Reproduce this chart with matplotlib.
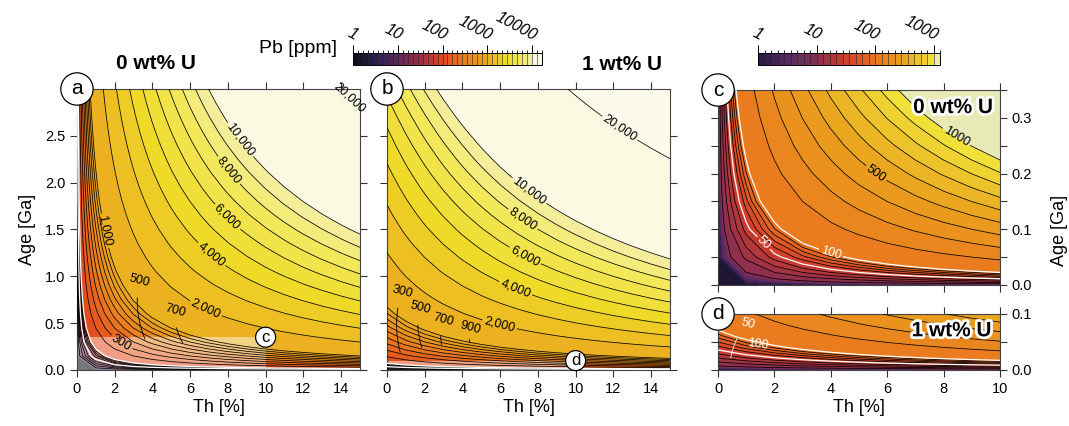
import numpy as np
import matplotlib.pyplot as plt
import matplotlib.patheffects as pe
from matplotlib.colors import ListedColormap, BoundaryNorm
from matplotlib.cm import ScalarMappable
from matplotlib.patches import Rectangle
from matplotlib.ticker import MultipleLocator

plt.rcParams['font.family'] = ['Liberation Sans', 'DejaVu Sans']
plt.rcParams['font.size'] = 10.5

# === decay constants [1/yr], mass ratios, U isotope abundances ===
LAM_232 = 4.9475e-11
LAM_238 = 1.55125e-10
LAM_235 = 9.8485e-10
MASS_208_232 = 207.977 / 232.038
MASS_206_238 = 205.974 / 238.051
MASS_207_235 = 206.976 / 235.044
U238_ABUND = 0.992742
U235_ABUND = 0.007204

# === model grids: Th [%], age [Ga] ===
th_ab = np.arange(0, 15.01, 1.0)
age_ab = np.arange(0, 3.001, 0.15)
th_cd = np.arange(0, 10.01, 1.0)
age_c = np.arange(0, 0.3501, 0.05)
age_d = np.arange(0, 0.1001, 0.02)
u_panels = {'a': 0.0, 'b': 1.0, 'c': 0.0, 'd': 1.0}   # wt% U

# === contour levels [ppm] ===
levels_ab = [1, 2, 3, 4, 5, 6, 7, 8, 9,
             10, 20, 30, 40, 50, 60, 70, 80, 90,
             100, 200, 300, 400, 500, 600, 700, 800, 900,
             1000, 2000, 3000, 4000, 5000, 6000, 7000, 8000, 9000,
             10000, 20000, 30000]
levels_cd = [1, 2, 3, 4, 5, 6, 7, 8, 9,
             10, 20, 30, 40, 50, 60, 70, 80, 90,
             100, 200, 300, 400, 500, 600, 700, 800, 900,
             1000, 2000]
white_levels = [50, 100]
min_line_level = 10

# labelled contours: level -> label position (Th, age)
labels_a = {20000: (14.3, 2.88), 10000: (8.6, 2.45), 8000: (8.1, 2.14), 6000: (8.0, 1.64),
            4000: (7.2, 1.25), 2000: (6.9, 0.68), 1000: (1.8, 1.5), 300: (2.3, 0.27)}
labels_b = {20000: (12.5, 2.63), 10000: (7.6, 1.93), 8000: (7.2, 1.61), 6000: (7.4, 1.25),
            4000: (6.9, 0.91), 2000: (6.0, 0.51)}
labels_c = {1000: (8.45, 0.266), 500: (5.6, 0.20)}
labels_c_white = {100: (4.0, 0.057), 50: (1.55, 0.072)}

# colour anchors (position in bin index, RGB 0-255)
anchor_ab_pos = [0, 4.5, 9, 13.5, 18, 22.5, 27, 30.5, 33.5, 35.5, 36.5, 38]
anchor_ab_rgb = [(14, 12, 22), (42, 30, 78), (92, 40, 92), (158, 45, 68),
                 (226, 72, 32), (234, 128, 30), (234, 170, 32), (240, 218, 40),
                 (242, 232, 90), (244, 238, 155), (251, 249, 226), (253, 252, 240)]
anchor_cd_pos = [0, 4.5, 9, 13.5, 18, 22.5, 26.5, 27.5]
anchor_cd_rgb = [(40, 26, 64), (86, 42, 100), (136, 46, 82), (212, 62, 42),
                 (234, 118, 30), (234, 166, 30), (240, 224, 56), (232, 234, 182)]


def radiogenic_pb(th_pct, age_ga, u_pct):
    t = age_ga * 1e9
    th = th_pct * 1e4
    u = u_pct * 1e4
    return (th * MASS_208_232 * (np.exp(LAM_232 * t) - 1)
            + u * U238_ABUND * MASS_206_238 * (np.exp(LAM_238 * t) - 1)
            + u * U235_ABUND * MASS_207_235 * (np.exp(LAM_235 * t) - 1))


def make_cmap(levels, pos, rgb, under):
    nbins = len(levels) - 1
    centers = np.arange(nbins) + 0.5
    rgb = np.array(rgb) / 255.0
    cols = np.column_stack([np.interp(centers, pos, rgb[:, k]) for k in range(3)])
    cmap = ListedColormap(cols)
    cmap.set_under(np.array(under) / 255.0)
    cmap.set_over(rgb[-1])
    return cmap, BoundaryNorm(levels, nbins)


cmap_ab, norm_ab = make_cmap(levels_ab, anchor_ab_pos, anchor_ab_rgb, (8, 8, 12))
cmap_cd, norm_cd = make_cmap(levels_cd, anchor_cd_pos, anchor_cd_rgb, (30, 22, 50))

fmt = lambda v: f'{v:,.0f}'
fmt_plain = lambda v: f'{v:.0f}'
outline = [pe.withStroke(linewidth=4, foreground='white')]

fig = plt.figure(figsize=(10.69, 4.26), dpi=100)
ax_a = fig.add_axes([0.0720, 0.1315, 0.2647, 0.6596])
ax_b = fig.add_axes([0.3620, 0.1315, 0.2647, 0.6596])
ax_c = fig.add_axes([0.6717, 0.3310, 0.2638, 0.4577])
ax_d = fig.add_axes([0.6717, 0.1315, 0.2638, 0.1315])


def draw_field(ax, th, age, u, levels, cmap, norm, black_labels=None, white_labels=None,
               fmt=fmt):
    black_labels = black_labels or {}
    white_labels = white_labels or {}
    T, A = np.meshgrid(th, age)
    Z = radiogenic_pb(T, A, u)
    ax.contourf(T, A, Z, levels=levels, cmap=cmap, norm=norm, extend='both', zorder=1)
    plain_k = [lv for lv in levels if lv >= min_line_level and lv not in white_levels
               and lv not in black_labels]
    plain_w = [lv for lv in white_levels if lv not in white_labels]
    ax.contour(T, A, Z, levels=plain_k, colors='k', linewidths=0.55, zorder=3)
    if plain_w:
        ax.contour(T, A, Z, levels=plain_w, colors='white', linewidths=0.9, zorder=3)
    for lv, pos in list(black_labels.items()) + list(white_labels.items()):
        col, lw = ('white', 0.9) if lv in white_labels else ('k', 0.55)
        cs = ax.contour(T, A, Z, levels=[lv], colors=col, linewidths=lw, zorder=3)
        for t in ax.clabel(cs, manual=[pos], fmt=fmt, fontsize=9, inline=True,
                           inline_spacing=2):
            t.set_clip_on(False)


def style_axes(ax):
    ax.tick_params(direction='out', top=True, right=True, length=5, width=0.8,
                   labelsize=10.5, color='#333333')
    ax.tick_params(which='minor', direction='out', top=True, right=True, length=5,
                   width=0.8, color='#333333')
    for s in ax.spines.values():
        s.set_linewidth(0.8)
        s.set_color('#444444')


def circle_label(ax, x, y, txt, size, pad, transform=None):
    ax.text(x, y, txt, transform=transform or ax.transAxes, ha='center', va='center',
            fontsize=size, zorder=20, clip_on=False,
            bbox=dict(boxstyle=f'circle,pad={pad}', fc='white', ec='black', lw=0.9))


def leader(ax, txt, tip, pos, color='k'):
    ax.annotate(txt, xy=tip, xytext=pos, fontsize=9, rotation=-15, ha='center',
                va='center', zorder=6, color=color,
                arrowprops=dict(arrowstyle='-', lw=0.6, color=color, shrinkA=4, shrinkB=0,
                                connectionstyle='arc3,rad=0.15'))


# --- panel a ---
draw_field(ax_a, th_ab, age_ab, u_panels['a'], levels_ab, cmap_ab, norm_ab, labels_a)
ax_a.add_patch(Rectangle((0, 0), 10, 0.35, fc='white', ec='none', alpha=0.45, zorder=2))
leader(ax_a, '500', (3.6, 0.33), (3.3, 0.95))
leader(ax_a, '700', (5.6, 0.29), (5.2, 0.63))
circle_label(ax_a, 10, 0.35, 'c', 12, 0.15, transform=ax_a.transData)
ax_a.set_xlim(0, 15)
ax_a.set_ylim(0, 3.0)
ax_a.set_xticks(range(0, 15, 2))
ax_a.set_yticks([0, 0.5, 1.0, 1.5, 2.0, 2.5])
ax_a.set_xlabel('Th [%]', fontsize=13, labelpad=2)
ax_a.set_ylabel('Age [Ga]', fontsize=13, labelpad=6)
style_axes(ax_a)
circle_label(ax_a, 0, 1, 'a', 15, 0.32)

# --- panel b ---
draw_field(ax_b, th_ab, age_ab, u_panels['b'], levels_ab, cmap_ab, norm_ab, labels_b)
ax_b.add_patch(Rectangle((0, 0), 10, 0.1, fc='white', ec='none', alpha=0.45, zorder=2))
leader(ax_b, '300', (0.7, 0.19), (0.8, 0.84))
leader(ax_b, '500', (1.85, 0.24), (1.75, 0.66))
leader(ax_b, '700', (2.9, 0.27), (3.0, 0.54))
leader(ax_b, '900', (4.4, 0.29), (4.4, 0.45))
circle_label(ax_b, 10, 0.1, 'd', 12, 0.15, transform=ax_b.transData)
ax_b.set_xlim(0, 15)
ax_b.set_ylim(0, 3.0)
ax_b.set_xticks(range(0, 15, 2))
ax_b.set_yticks([0, 0.5, 1.0, 1.5, 2.0, 2.5])
ax_b.set_yticklabels([])
ax_b.set_xlabel('Th [%]', fontsize=13, labelpad=2)
style_axes(ax_b)
circle_label(ax_b, 0, 1, 'b', 15, 0.32)

# --- panel c ---
draw_field(ax_c, th_cd, age_c, u_panels['c'], levels_cd, cmap_cd, norm_cd,
           labels_c, labels_c_white, fmt=fmt_plain)
ax_c.text(0.975, 0.91, '0 wt% U', transform=ax_c.transAxes, ha='right', va='center',
          fontsize=15, fontweight='bold', path_effects=outline, zorder=10)
ax_c.set_xlim(0, 10)
ax_c.set_ylim(0, 0.35)
ax_c.set_xticks(range(0, 11, 2))
ax_c.set_xticklabels([])
ax_c.yaxis.set_major_locator(MultipleLocator(0.1))
ax_c.yaxis.set_minor_locator(MultipleLocator(0.05))
style_axes(ax_c)
ax_c.tick_params(axis='y', which='both', left=True, right=True,
                 labelleft=False, labelright=True)
circle_label(ax_c, 0, 1, 'c', 15, 0.32)

# --- panel d ---
draw_field(ax_d, th_cd, age_d, u_panels['d'], levels_cd, cmap_cd, norm_cd)
leader(ax_d, '50', (0.45, 0.022), (1.05, 0.083), color='white')
ax_d.text(1.4, 0.046, '100', fontsize=9, color='white', ha='center', va='center',
          rotation=-8, zorder=6)
ax_d.text(0.97, 0.70, '1 wt% U', transform=ax_d.transAxes, ha='right', va='center',
          fontsize=15, fontweight='bold', path_effects=outline, zorder=10)
ax_d.set_xlim(0, 10)
ax_d.set_ylim(0, 0.1)
ax_d.set_xticks(range(0, 11, 2))
ax_d.yaxis.set_major_locator(MultipleLocator(0.1))
ax_d.yaxis.set_minor_locator(MultipleLocator(0.05))
ax_d.set_xlabel('Th [%]', fontsize=13, labelpad=2)
style_axes(ax_d)
ax_d.tick_params(axis='y', which='both', left=True, right=True,
                 labelleft=False, labelright=True)
circle_label(ax_d, 0, 1, 'd', 15, 0.32)

fig.text(1060 / 1069, 0.458, 'Age [Ga]', rotation=90, ha='center', va='center', fontsize=13)


# --- colour bars ---
def colorbar(rect, cmap, norm, levels, ticks):
    cax = fig.add_axes(rect)
    sm = ScalarMappable(norm=norm, cmap=cmap)
    cb = fig.colorbar(sm, cax=cax, orientation='horizontal', boundaries=levels,
                      spacing='uniform', drawedges=True, ticks=ticks)
    cb.outline.set_linewidth(0.7)
    cb.dividers.set_linewidth(0.4)
    cb.dividers.set_color('#222222')
    cax.xaxis.set_ticks_position('top')
    cax.tick_params(length=6, width=0.7, pad=1)
    cax.set_xticklabels([str(t) for t in ticks], rotation=-28, ha='right', va='bottom',
                        rotation_mode='anchor', fontstyle='italic', fontsize=11.5)
    return cb


colorbar([0.3302, 0.8474, 0.1768, 0.0282], cmap_ab, norm_ab, levels_ab,
         [1, 10, 100, 1000, 10000])
colorbar([0.7091, 0.8474, 0.1703, 0.0282], cmap_cd, norm_cd, levels_cd,
         [1, 10, 100, 1000])

fig.text(0.315, 0.887, 'Pb [ppm]', ha='right', va='center', fontsize=14)
fig.text(0.146, 0.850, '0 wt% U', ha='center', va='center', fontsize=15, fontweight='bold')
fig.text(0.582, 0.848, '1 wt% U', ha='center', va='center', fontsize=15, fontweight='bold')

fig.savefig('out.png', dpi=100)
